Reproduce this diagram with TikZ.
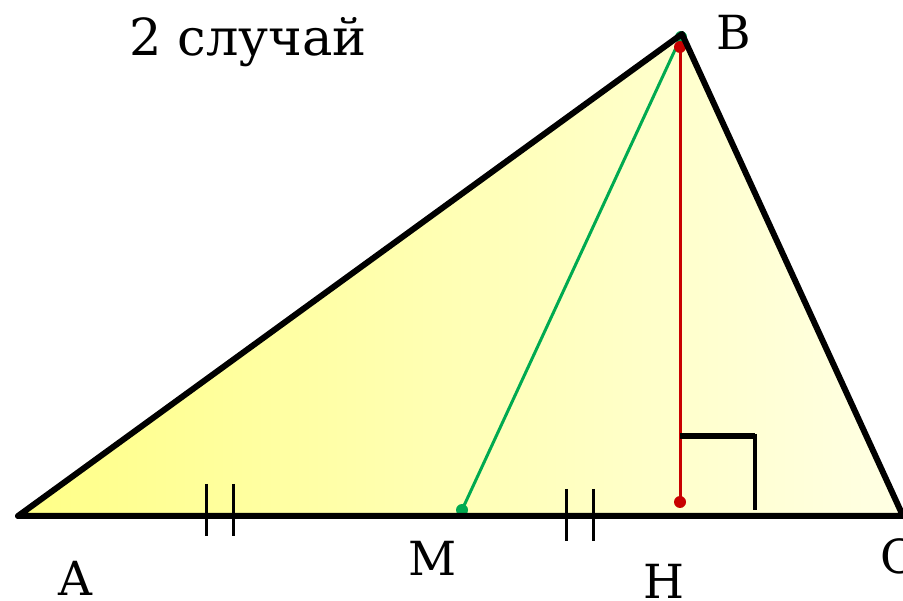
\documentclass[tikz,border=0pt]{standalone}
\usepackage{fontspec}
\setmainfont{DejaVu Serif}
\definecolor{gr}{RGB}{0,170,80}
\definecolor{rd}{RGB}{200,0,0}
\definecolor{ylA}{RGB}{255,255,135}
\definecolor{ylC}{RGB}{255,255,228}
\begin{document}
\begin{tikzpicture}[x=1pt,y=-1pt,
  lbl/.style={font=\fontsize{47}{50}\selectfont, inner sep=0pt},
  side/.style={line width=6pt, line join=round, line cap=round},
  tick/.style={line width=3pt},
  gdot/.style={circle, fill=gr, inner sep=0pt, minimum size=12pt},
  rdot/.style={circle, fill=rd, inner sep=0pt, minimum size=12pt}]
\useasboundingbox (0,0) rectangle (903,601);
\coordinate (A) at (18,516);
\coordinate (B) at (682,34);
\coordinate (C) at (903,516);
\shade[left color=ylA, right color=ylC] (A) -- (B) -- (C) -- cycle;
% median
\node[gdot] (M) at (462,510) {};
\node[gdot] (Bg) at (681,37) {};
\draw[gr, line width=3pt] (M.center) -- (Bg.center);
% altitude
\node[rdot] (Br) at (680,47) {};
\node[rdot] (H) at (680,502) {};
\draw[rd, line width=3pt] (Br.center) -- (H.center);
% right angle
\coordinate (R1) at (680,436);
\coordinate (R2) at (755,436);
\coordinate (R3) at (755,510);
\draw[line width=5.5pt] (R1) -- (R2);
\draw[line width=3.5pt] (R2) ++(0,-2) coordinate (R2a) (R2a) -- (R3);
% triangle
\draw[side] (A) -- (B) -- (C) -- cycle;
% ticks
\coordinate (t1a) at (206,484); \coordinate (t1b) at (206,536);
\coordinate (t2a) at (233,484); \coordinate (t2b) at (233,536);
\coordinate (t3a) at (566,489); \coordinate (t3b) at (566,541);
\coordinate (t4a) at (593,489); \coordinate (t4b) at (593,541);
\draw[tick] (t1a) -- (t1b);
\draw[tick] (t2a) -- (t2b);
\draw[tick] (t3a) -- (t3b);
\draw[tick] (t4a) -- (t4b);
% labels
\node[lbl] (lA) at (75,578) {A};
\node[lbl] (lB) at (734,32) {B};
\node[lbl] (lC) at (898,556) {C};
\node[lbl] (lM) at (433,558) {M};
\node[lbl] (lH) at (664,581) {H};
\node[lbl, font=\fontsize{51}{54}\selectfont] (title) at (248,42) {2 случай};
\end{tikzpicture}
\end{document}
